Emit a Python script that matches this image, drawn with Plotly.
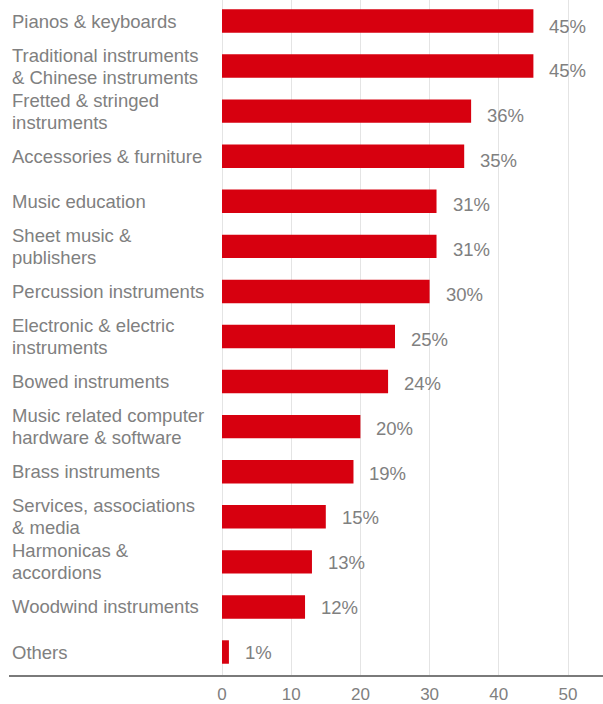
import plotly.graph_objects as go

categories = [
    "Pianos & keyboards",
    "Traditional instruments<br>& Chinese instruments",
    "Fretted & stringed<br>instruments",
    "Accessories & furniture",
    "Music education",
    "Sheet music &<br>publishers",
    "Percussion instruments",
    "Electronic & electric<br>instruments",
    "Bowed instruments",
    "Music related computer<br>hardware & software",
    "Brass instruments",
    "Services, associations<br>& media",
    "Harmonicas &<br>accordions",
    "Woodwind instruments",
    "Others",
]
values = [45, 45, 36, 35, 31, 31, 30, 25, 24, 20, 19, 15, 13, 12, 1]
value_labels = ["45%", "45%", "36%", "35%", "31%", "31%", "30%", "25%", "24%",
                "20%", "19%", "15%", "13%", "12%", "1%"]
tick_vals = [0, 10, 20, 30, 40, 50]

BAR = "#d7000f"
GRAY = "#808080"
FONT = "Liberation Sans, Arial, sans-serif"
FS = 18.5
LINE_GAP = 22

idx = list(range(len(categories)))
n_rows = len(categories)

fig = go.Figure(go.Bar(
    x=values, y=idx, orientation="h",
    marker=dict(color=BAR, line=dict(width=0)),
    width=0.52, hoverinfo="skip",
))

annotations = []
for i, (cat, v, lab) in enumerate(zip(categories, values, value_labels)):
    lines = cat.split("<br>")
    n = len(lines)
    for k, ln in enumerate(lines):
        shift = ((n - 1) / 2.0 - k) * LINE_GAP
        annotations.append(dict(
            x=0, xref="paper", y=i, yref="y", text=ln, showarrow=False,
            xanchor="left", yanchor="middle", align="left", xshift=1, yshift=shift,
            font=dict(family=FONT, size=FS, color=GRAY),
        ))
    annotations.append(dict(
        x=v, xref="x", y=i, yref="y", text=lab, showarrow=False,
        xanchor="left", yanchor="middle", xshift=14,
        yshift=-(5.0 - 5.0 * i / (n_rows - 1)),
        font=dict(family=FONT, size=FS, color=GRAY),
    ))

px_per_unit = (568 - 222) / 50.0
x_lo = (9 - 222) / px_per_unit
x_hi = (603 - 222) / px_per_unit

fig.update_layout(
    width=603, height=704,
    margin=dict(l=9, r=0, t=0, b=29, autoexpand=False),
    paper_bgcolor="white", plot_bgcolor="white",
    showlegend=False,
    annotations=annotations,
    xaxis=dict(
        range=[x_lo, x_hi], tickvals=tick_vals, ticktext=[str(t) for t in tick_vals],
        showgrid=True, gridcolor="#e4e4e4", gridwidth=1, zeroline=False,
        showline=True, linecolor="#7a7a7a", linewidth=2,
        ticks="outside", ticklen=3, tickcolor="rgba(0,0,0,0)",
        tickfont=dict(family=FONT, size=17, color=GRAY),
        automargin=False, fixedrange=True,
    ),
    yaxis=dict(
        range=[14.51, -0.466], showticklabels=False, showgrid=False,
        zeroline=False, showline=False, ticks="", automargin=False, fixedrange=True,
    ),
)

fig.write_html(
    "out.html",
    config={"displayModeBar": False},
    post_script="document.body.style.margin='0';document.body.style.overflow='hidden';",
)
